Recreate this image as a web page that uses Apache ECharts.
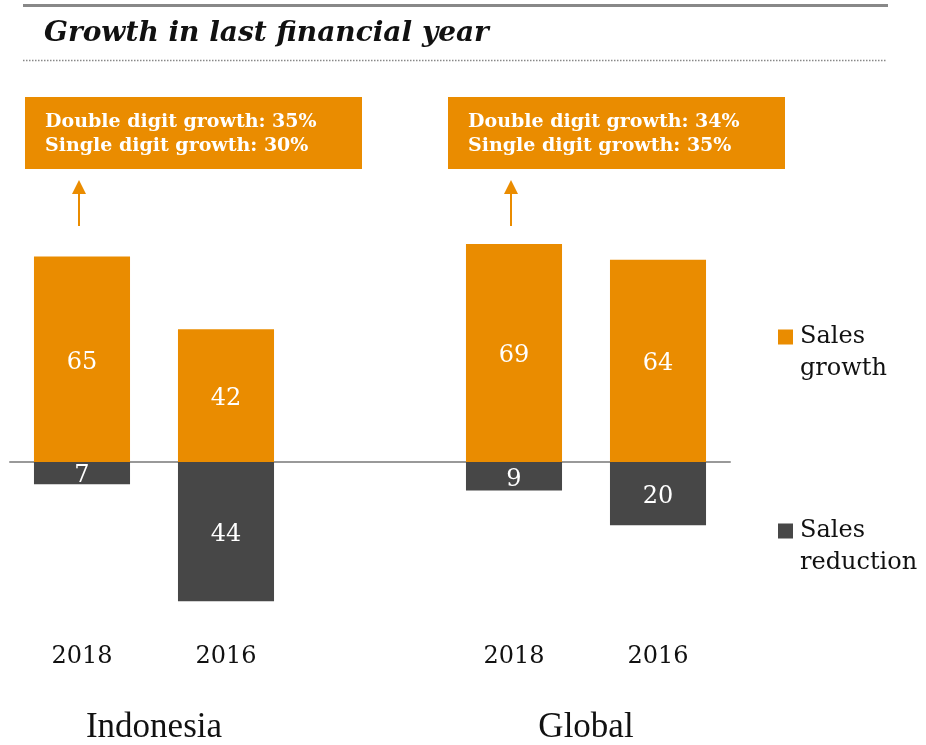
<!DOCTYPE html>
<html>
<head>
<meta charset="utf-8">
<script src="https://cdn.jsdelivr.net/npm/echarts@6/dist/echarts.min.js"></script>
<style>
  html, body { margin: 0; padding: 0; background: #fff; }
  #chart { width: 926px; height: 745px; }
</style>
</head>
<body>
<div id="chart"></div>
<script>
// Survey results: share of companies reporting sales growth / reduction
const years = ['2018', '2016', '', '2018', '2016'];
const salesGrowth = [65, 42, null, 69, 64];
const salesReduction = [7, 44, null, 9, 20];
const regions = ['Indonesia', 'Global'];
const growthNotes = [
  ['Double digit growth: 35%', 'Single digit growth: 30%'],
  ['Double digit growth: 34%', 'Single digit growth: 35%']
];
const seriesNames = ['Sales growth', 'Sales reduction'];

const ORANGE = '#EA8C00';
const DARK = '#474747';
const SERIF = '"DejaVu Serif", Georgia, serif';

// region labels sit between each pair of bars: 11 half-slot ticks, boundaryGap off
const regionTicks = ['', '', regions[0], '', '', '', '', '', regions[1], '', ''];

// legend swatch: a 15px square at the top of a 15x47 box so it lines up with the first text line
const SWATCH = 'path://M0,0H15V15H0Z M0,47L0.01,47';

const chart = echarts.init(document.getElementById('chart'));

const labelStyle = {
  show: true,
  position: 'inside',
  offset: [0, 3],
  color: '#fff',
  fontFamily: SERIF,
  fontSize: 24,
  formatter: p => Math.abs(p.value)
};

function legendBlock(name, text, top) {
  return {
    data: [name],
    left: 778,
    top: top,
    padding: 0,
    icon: SWATCH,
    itemWidth: 15,
    itemHeight: 47,
    formatter: () => text,
    selectedMode: false,
    textStyle: { fontFamily: SERIF, fontSize: 24, color: '#111', lineHeight: 32, padding: [0, 0, 0, 2] }
  };
}

chart.setOption({
  animation: false,
  grid: { left: 10, right: 196, top: 225, height: 414 },
  xAxis: [
    {
      type: 'category',
      data: years,
      axisLine: { onZero: true, lineStyle: { color: '#999', width: 2 } },
      axisTick: { show: false },
      axisLabel: { show: false }
    },
    {
      type: 'category',
      data: years,
      position: 'bottom',
      axisLine: { show: false },
      axisTick: { show: false },
      axisLabel: { color: '#111', fontFamily: SERIF, fontSize: 24, margin: 9 }
    },
    {
      type: 'category',
      data: regionTicks,
      boundaryGap: false,
      position: 'bottom',
      axisLine: { show: false },
      axisTick: { show: false },
      axisLabel: {
        interval: 0,
        color: '#111',
        fontFamily: '"Liberation Serif", "Times New Roman", serif',
        fontSize: 35,
        margin: 74
      }
    }
  ],
  yAxis: {
    type: 'value',
    min: -55,
    max: 75,
    show: false,
    splitLine: { show: false }
  },
  legend: [
    legendBlock(seriesNames[0], 'Sales\ngrowth', 321),
    legendBlock(seriesNames[1], 'Sales\nreduction', 515)
  ],
  series: [
    {
      name: seriesNames[0],
      type: 'bar',
      stack: 'total',
      barWidth: '66.7%',
      itemStyle: { color: ORANGE },
      label: labelStyle,
      data: salesGrowth
    },
    {
      name: seriesNames[1],
      type: 'bar',
      stack: 'total',
      barWidth: '66.7%',
      itemStyle: { color: DARK },
      label: labelStyle,
      data: salesReduction.map(v => (v == null ? null : -v))
    }
  ]
});

// Header rules, title and growth-breakdown call-outs with arrows
const graphics = [
  { type: 'rect', shape: { x: 23, y: 4, width: 865, height: 3 }, style: { fill: '#888' } },
  {
    type: 'text',
    style: {
      x: 44, y: 34, text: 'Growth in last financial year',
      font: 'italic bold 28px "DejaVu Serif", Georgia, serif',
      fill: '#111', verticalAlign: 'middle'
    }
  },
  {
    type: 'line',
    shape: { x1: 23, y1: 60.5, x2: 887, y2: 60.5 },
    style: { stroke: '#888', lineWidth: 1.5, lineDash: [1.5, 1.5] }
  }
];

const boxLeft = [25, 448];
const barIdx = [0, 3];
growthNotes.forEach((lines, i) => {
  graphics.push({
    type: 'rect',
    shape: { x: boxLeft[i], y: 97, width: 337, height: 72 },
    style: { fill: ORANGE }
  });
  graphics.push({
    type: 'text',
    style: {
      x: boxLeft[i] + 20, y: 110, text: lines.join('\n'),
      font: 'bold 19px "DejaVu Serif", Georgia, serif',
      lineHeight: 24, fill: '#fff'
    }
  });
  const ax = chart.convertToPixel({ xAxisIndex: 0 }, barIdx[i]) - 3;
  graphics.push({
    type: 'line',
    shape: { x1: ax, y1: 226, x2: ax, y2: 192 },
    style: { stroke: ORANGE, lineWidth: 2 }
  });
  graphics.push({
    type: 'polygon',
    shape: { points: [[ax - 7, 194], [ax + 7, 194], [ax, 180]] },
    style: { fill: ORANGE }
  });
});

chart.setOption({ graphic: graphics });
</script>
</body>
</html>
